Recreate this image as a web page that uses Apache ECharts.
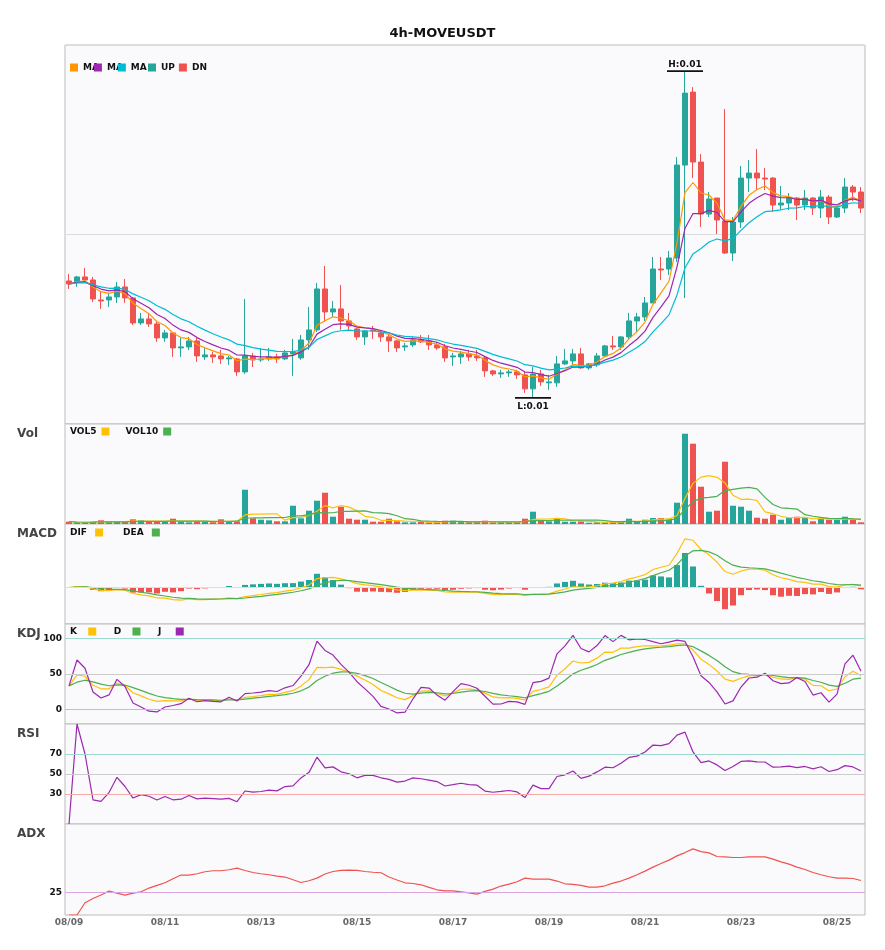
<!DOCTYPE html>
<html>
<head>
<meta charset="utf-8">
<title>4h-MOVEUSDT</title>
<script src="https://cdn.jsdelivr.net/npm/echarts@6/dist/echarts.min.js"></script>
<style>
  html, body { margin: 0; padding: 0; background: #fff; }
  #chart { width: 885px; height: 950px; }
</style>
</head>
<body>
<div id="chart"></div>
<script>
// 4h candles, 08/09 00:00 onwards
const days = ['08/09', '08/10', '08/11', '08/12', '08/13', '08/14', '08/15', '08/16', '08/17',
  '08/18', '08/19', '08/20', '08/21', '08/22', '08/23', '08/24', '08/25'];
const hours = ['00:00', '04:00', '08:00', '12:00', '16:00', '20:00'];

const opens = [
  0.01117, 0.01116, 0.01121, 0.01118, 0.01098, 0.01098, 0.01101, 0.01111, 0.01100, 0.01075,
  0.01079, 0.01074, 0.01060, 0.01065, 0.01050, 0.01051, 0.01057, 0.01041, 0.01043, 0.01042,
  0.01039, 0.01039, 0.01026, 0.01042, 0.01038, 0.01039, 0.01041, 0.01039, 0.01044, 0.01040,
  0.01058, 0.01068, 0.01109, 0.01086, 0.01089, 0.01077, 0.01069, 0.01061, 0.01068, 0.01065,
  0.01061, 0.01057, 0.01051, 0.01053, 0.01058, 0.01057, 0.01053, 0.01051, 0.01041, 0.01041,
  0.01044, 0.01042, 0.01040, 0.01027, 0.01024, 0.01025, 0.01026, 0.01023, 0.01009, 0.01024,
  0.01015, 0.01015, 0.01034, 0.01037, 0.01044, 0.01030, 0.01033, 0.01042, 0.01052, 0.01051,
  0.01061, 0.01077, 0.01081, 0.01095, 0.01129, 0.01129, 0.01140, 0.01233, 0.01306, 0.01236,
  0.01184, 0.01200, 0.01177, 0.01145, 0.01176, 0.01220, 0.01225, 0.01220, 0.01220, 0.01193,
  0.01195, 0.01200, 0.01193, 0.01200, 0.01190, 0.01201, 0.01181, 0.01190, 0.01211, 0.01206
];
const closes = [
  0.01114, 0.01121, 0.01118, 0.01099, 0.01097, 0.01101, 0.01111, 0.01100, 0.01075, 0.01079,
  0.01074, 0.01060, 0.01065, 0.01050, 0.01051, 0.01057, 0.01042, 0.01043, 0.01041, 0.01039,
  0.01040, 0.01026, 0.01042, 0.01038, 0.01039, 0.01041, 0.01039, 0.01045, 0.01046, 0.01058,
  0.01068, 0.01109, 0.01086, 0.01089, 0.01077, 0.01072, 0.01061, 0.01067, 0.01067, 0.01061,
  0.01057, 0.01050, 0.01052, 0.01058, 0.01056, 0.01053, 0.01050, 0.01040, 0.01042, 0.01044,
  0.01041, 0.01040, 0.01027, 0.01024, 0.01025, 0.01026, 0.01023, 0.01009, 0.01024, 0.01016,
  0.01016, 0.01034, 0.01037, 0.01044, 0.01030, 0.01034, 0.01042, 0.01052, 0.01051, 0.01061,
  0.01077, 0.01081, 0.01095, 0.01129, 0.01128, 0.01140, 0.01233, 0.01305, 0.01236, 0.01184,
  0.01199, 0.01178, 0.01145, 0.01176, 0.01220, 0.01225, 0.01220, 0.01219, 0.01193, 0.01195,
  0.01200, 0.01193, 0.01200, 0.01190, 0.01201, 0.01181, 0.01190, 0.01211, 0.01206, 0.01190
];
const highs = [
  0.01124, 0.01122, 0.01130, 0.01121, 0.01106, 0.01105, 0.01116, 0.01119, 0.01101, 0.01085,
  0.01085, 0.01077, 0.01068, 0.01065, 0.01060, 0.01061, 0.01061, 0.01051, 0.01046, 0.01048,
  0.01042, 0.01040, 0.01099, 0.01045, 0.01050, 0.01050, 0.01044, 0.01048, 0.01059, 0.01063,
  0.01091, 0.01115, 0.01132, 0.01097, 0.01113, 0.01085, 0.01070, 0.01068, 0.01072, 0.01068,
  0.01063, 0.01058, 0.01055, 0.01061, 0.01063, 0.01063, 0.01056, 0.01054, 0.01045, 0.01047,
  0.01048, 0.01048, 0.01041, 0.01028, 0.01028, 0.01028, 0.01028, 0.01026, 0.01031, 0.01028,
  0.01023, 0.01042, 0.01049, 0.01049, 0.01050, 0.01035, 0.01045, 0.01053, 0.01062, 0.01062,
  0.01085, 0.01085, 0.01101, 0.01141, 0.01141, 0.01147, 0.01241, 0.01327, 0.01311, 0.01244,
  0.01206, 0.01200, 0.01289, 0.01181, 0.01232, 0.01238, 0.01249, 0.01230, 0.01221, 0.01212,
  0.01205, 0.01201, 0.01208, 0.01201, 0.01208, 0.01203, 0.01191, 0.01220, 0.01213, 0.01211
];
const lows = [
  0.01109, 0.01111, 0.01116, 0.01096, 0.01089, 0.01091, 0.01095, 0.01095, 0.01073, 0.01073,
  0.01071, 0.01056, 0.01056, 0.01041, 0.01041, 0.01048, 0.01036, 0.01038, 0.01035, 0.01034,
  0.01033, 0.01022, 0.01024, 0.01031, 0.01036, 0.01037, 0.01035, 0.01038, 0.01022, 0.01038,
  0.01048, 0.01066, 0.01076, 0.01081, 0.01068, 0.01068, 0.01058, 0.01053, 0.01059, 0.01056,
  0.01046, 0.01046, 0.01047, 0.01051, 0.01055, 0.01048, 0.01048, 0.01036, 0.01032, 0.01034,
  0.01037, 0.01037, 0.01021, 0.01022, 0.01020, 0.01021, 0.01019, 0.01005, 0.01000, 0.01012,
  0.01008, 0.01011, 0.01033, 0.01033, 0.01029, 0.01028, 0.01031, 0.01041, 0.01048, 0.01048,
  0.01059, 0.01066, 0.01077, 0.01095, 0.01118, 0.01123, 0.01136, 0.01100, 0.01220, 0.01171,
  0.01181, 0.01164, 0.01144, 0.01137, 0.01170, 0.01206, 0.01208, 0.01208, 0.01186, 0.01188,
  0.01188, 0.01178, 0.01188, 0.01183, 0.01180, 0.01174, 0.01180, 0.01185, 0.01197, 0.01185
];
const volumes = [
  23000, 17000, 13000, 23000, 37000, 20000, 20000, 20000, 47000, 37000,
  20000, 23000, 23000, 53000, 27000, 17000, 27000, 20000, 20000, 47000,
  20000, 27000, 343000, 57000, 43000, 37000, 27000, 27000, 183000, 57000,
  133000, 233000, 313000, 73000, 173000, 53000, 43000, 43000, 23000, 23000,
  53000, 27000, 17000, 17000, 20000, 17000, 17000, 33000, 33000, 20000,
  17000, 17000, 33000, 17000, 17000, 17000, 17000, 53000, 123000, 30000,
  27000, 50000, 23000, 23000, 27000, 13000, 17000, 17000, 17000, 23000,
  53000, 27000, 43000, 60000, 60000, 53000, 213000, 903000, 803000, 373000,
  123000, 133000, 623000, 183000, 173000, 133000, 63000, 53000, 93000, 43000,
  60000, 73000, 60000, 27000, 53000, 43000, 43000, 73000, 43000, 17000
];
const adxValues = [
  0, 0, 13.5, 18.2, 21.9, 26.3, 24.1, 21.9, 24.1, 25.5,
  29.6, 32.5, 35.4, 39.8, 43.9, 43.9, 45.3, 47.5, 48.6, 48.6,
  49.7, 51.5, 48.9, 46.7, 45.3, 44.2, 42.8, 41.7, 38.7, 35.7,
  37.6, 40.5, 45.0, 47.8, 49.0, 49.3, 49.0, 47.8, 47.0, 46.4,
  41.7, 38.4, 35.4, 34.6, 33.2, 30.3, 27.7, 26.6, 26.6, 25.5,
  24.4, 23.0, 25.9, 28.5, 31.8, 34.0, 36.5, 40.5, 39.5, 39.5,
  39.5, 37.3, 34.3, 33.6, 32.5, 30.7, 30.7, 32.1, 35.0, 37.3,
  40.5, 44.2, 48.2, 52.6, 56.6, 60.3, 65.0, 68.6, 72.7, 69.7,
  68.3, 64.3, 63.9, 63.2, 63.2, 63.9, 63.9, 63.9, 61.4, 58.4,
  55.9, 52.6, 50.0, 46.7, 44.2, 42.0, 40.5, 40.5, 40.1, 37.9
];

const UP_COLOR = '#26a69a';
const DN_COLOR = '#ef5350';

const times = [];
days.forEach(function (d) { hours.forEach(function (h) { times.push(d + ' ' + h); }); });
times.length = closes.length;

// ---- indicators (computed from the candles) ----
function movingAvg(arr, n) {
  return arr.map(function (_, i) {
    var s = Math.max(0, i - n + 1), sum = 0;
    for (var k = s; k <= i; k++) sum += arr[k];
    return sum / (i - s + 1);
  });
}
function ema(arr, n) {
  var a = 2 / (n + 1), out = [];
  arr.forEach(function (v, i) { out.push(i === 0 ? v : a * v + (1 - a) * out[i - 1]); });
  return out;
}

// the price overlays follow exponential averages
const maFast = ema(closes, 5), maMid = ema(closes, 8), maSlow = ema(closes, 14);
const vol5 = movingAvg(volumes, 5), vol10 = movingAvg(volumes, 10);

// fast MACD (6, 13, 5)
const emaShort = ema(closes, 6), emaLong = ema(closes, 13);
const dif = emaShort.map(function (v, i) { return v - emaLong[i]; });
const dea = ema(dif, 5);
const hist = dif.map(function (v, i) { return 2 * (v - dea[i]); });

const kLine = [], dLine = [], jLine = [];
(function () {
  var k = 50, d = 50;
  for (var i = 0; i < closes.length; i++) {
    var s = Math.max(0, i - 8);
    var lo = Math.min.apply(null, lows.slice(s, i + 1));
    var hi = Math.max.apply(null, highs.slice(s, i + 1));
    var rsv = hi === lo ? 50 : (closes[i] - lo) / (hi - lo) * 100;
    if (i === 0) { k = rsv; d = rsv; } else { k = (2 * k + rsv) / 3; d = (2 * d + k) / 3; }
    kLine.push(k); dLine.push(d); jLine.push(3 * k - 2 * d);
  }
})();

const rsi = [0];
(function () {
  var ag = 0, al = 0, n = 14;
  for (var i = 1; i < closes.length; i++) {
    var ch = closes[i] - closes[i - 1];
    var g = Math.max(ch, 0), l = Math.max(-ch, 0);
    if (i <= n) { ag = (ag * (i - 1) + g) / i; al = (al * (i - 1) + l) / i; }
    else { ag = (ag * (n - 1) + g) / n; al = (al * (n - 1) + l) / n; }
    rsi.push(al === 0 ? 100 : 100 - 100 / (1 + ag / al));
  }
})();

// candles split in rising / falling so the legend shows UP and DN
const upCandles = [], dnCandles = [];
closes.forEach(function (c, i) {
  var item = [opens[i], c, lows[i], highs[i]];
  var empty = ['-', '-', '-', '-'];
  if (c >= opens[i]) { upCandles.push(item); dnCandles.push(empty); }
  else { upCandles.push(empty); dnCandles.push(item); }
});

const hiVal = Math.max.apply(null, highs), loVal = Math.min.apply(null, lows);
const hiIdx = highs.indexOf(hiVal), loIdx = lows.indexOf(loVal);
const pad = (hiVal - loVal) * 0.08;
const priceMin = loVal - pad, priceMax = hiVal + pad;

// ---- layout ----
const LEFT = 65, RIGHT = 20;
const grids = [
  { top: 45, height: 379 },
  { top: 424, height: 100 },
  { top: 524, height: 100 },
  { top: 624, height: 100 },
  { top: 724, height: 100 },
  { top: 824, height: 91 }
];

const labelFont = { fontFamily: 'DejaVu Sans', fontSize: 9, fontWeight: 'bold', color: '#111' };

function xAxisFor(idx) {
  var last = idx === grids.length - 1;
  return {
    type: 'category', gridIndex: idx, data: times, boundaryGap: true,
    axisLine: { show: false }, axisTick: { show: false },
    splitLine: { show: false },
    axisLabel: last ? {
      show: true, interval: 11, margin: 3, color: '#666', fontSize: 9, fontWeight: 'bold',
      fontFamily: 'DejaVu Sans', formatter: function (v) { return v.slice(0, 5); }
    } : { show: false }
  };
}

function levelAxis(idx, min, max, interval, shown) {
  return {
    type: 'value', gridIndex: idx, min: min, max: max, interval: interval,
    axisLine: { show: false }, axisTick: { show: false }, splitLine: { show: false },
    axisLabel: {
      show: true, margin: 3, fontFamily: 'DejaVu Sans', fontSize: 9, fontWeight: 'bold', color: '#111',
      formatter: function (v) { return shown.indexOf(Math.round(v)) >= 0 ? String(Math.round(v)) : ''; }
    }
  };
}

function levels(list) {
  return {
    silent: true, symbol: 'none', animation: false, label: { show: false },
    data: list.map(function (l) { return { yAxis: l[0], lineStyle: { color: l[1], width: 1, type: 'solid' } }; })
  };
}

function lineSeries(name, data, color, xi, extra) {
  var s = {
    name: name, type: 'line', data: data, xAxisIndex: xi, yAxisIndex: xi,
    symbol: 'none', smooth: false, animation: false,
    lineStyle: { color: color, width: 1.2 }, itemStyle: { color: color }
  };
  return Object.assign(s, extra || {});
}

function panelTitle(text, top) {
  return {
    text: text, left: 17, top: top, padding: 0,
    textStyle: { fontFamily: 'DejaVu Sans', fontSize: 12, fontWeight: 'bold', color: '#444' }
  };
}

function legendBox(names, left, top, gap, extra) {
  return Object.assign({
    data: names, left: left, top: top, padding: 0, icon: 'rect',
    itemWidth: 8, itemHeight: 8, itemGap: gap, selectedMode: false,
    itemStyle: { borderWidth: 0 }, textStyle: labelFont
  }, extra || {});
}

// sub panel legends: text first, icon after, labels padded with spaces
function subLegend(names, top, gap, labels) {
  return legendBox(names, 70, top, gap, {
    align: 'right',
    formatter: function (n) { return labels[names.indexOf(n)]; }
  });
}

const chart = echarts.init(document.getElementById('chart'), null, { renderer: 'canvas' });

chart.setOption({
  animation: false,
  backgroundColor: '#fff',
  title: [
    {
      text: '4h-MOVEUSDT', left: 'center', top: 27, padding: 0,
      textStyle: { fontFamily: 'DejaVu Sans', fontSize: 13, fontWeight: 'bold', color: '#111' }
    },
    panelTitle('Vol', 428),
    panelTitle('MACD', 528),
    panelTitle('KDJ', 628),
    panelTitle('RSI', 728),
    panelTitle('ADX', 828)
  ],
  legend: [
    // the MA entries are packed so each icon sits over the tail of the previous label
    legendBox(['MA5', 'MA8', 'MA14'], 70, 63, -5, { formatter: function () { return 'MA'; } }),
    legendBox(['UP', 'DN'], 148, 63, 4),
    subLegend(['VOL5', 'VOL10'], 427, 16, ['VOL5', 'VOL10']),
    subLegend(['DIF', 'DEA'], 528, 20, ['DIF ', 'DEA ']),
    subLegend(['K', 'D', 'J'], 627, 17.5, ['K  ', 'D  ', 'J   '])
  ],
  grid: grids.map(function (g) {
    return {
      left: LEFT, right: RIGHT, top: g.top, height: g.height,
      show: true, backgroundColor: '#fafafc', borderColor: '#bbb', borderWidth: 1
    };
  }),
  xAxis: grids.map(function (_, i) { return xAxisFor(i); }),
  yAxis: [
    {
      type: 'value', gridIndex: 0, min: priceMin, max: priceMax, interval: (priceMax - priceMin) / 2,
      axisLine: { show: false }, axisTick: { show: false }, axisLabel: { show: false },
      splitLine: { show: true, lineStyle: { color: '#ddd', width: 1 } }
    },
    {
      type: 'value', gridIndex: 1, min: 0, max: 1000000,
      axisLine: { show: false }, axisTick: { show: false }, axisLabel: { show: false }, splitLine: { show: false }
    },
    {
      type: 'value', gridIndex: 2,
      min: function (v) { return v.min - (v.max - v.min) * 0.21; },
      max: function (v) { return v.max + (v.max - v.min) * 0.21; },
      axisLine: { show: false }, axisTick: { show: false }, axisLabel: { show: false }, splitLine: { show: false }
    },
    levelAxis(3, -20, 120, 10, [0, 50, 100]),
    levelAxis(4, 0, 100, 10, [30, 50, 70]),
    levelAxis(5, 0, 100, 5, [25])
  ],
  series: [
    {
      name: 'UP', type: 'candlestick', data: upCandles, xAxisIndex: 0, yAxisIndex: 0, barWidth: 6,
      itemStyle: { color: UP_COLOR, color0: UP_COLOR, borderColor: UP_COLOR, borderColor0: UP_COLOR, borderWidth: 1 },
      markPoint: {
        silent: true, animation: false, symbol: 'rect', symbolSize: [36, 1.6],
        itemStyle: { color: '#111' },
        data: [
          { coord: [hiIdx, hiVal], value: hiVal,
            label: Object.assign({ show: true, position: 'top', distance: 1, formatter: 'H:' + hiVal.toFixed(2) }, labelFont) },
          { coord: [loIdx, loVal], value: loVal,
            label: Object.assign({ show: true, position: 'bottom', distance: 3, formatter: 'L:' + loVal.toFixed(2) }, labelFont) }
        ]
      }
    },
    {
      name: 'DN', type: 'candlestick', data: dnCandles, xAxisIndex: 0, yAxisIndex: 0, barWidth: 6,
      itemStyle: { color: DN_COLOR, color0: DN_COLOR, borderColor: DN_COLOR, borderColor0: DN_COLOR, borderWidth: 1 }
    },
    lineSeries('MA5', maFast, '#ff9800', 0),
    lineSeries('MA8', maMid, '#9c27b0', 0),
    lineSeries('MA14', maSlow, '#00bcd4', 0),

    {
      name: 'Vol', type: 'bar', xAxisIndex: 1, yAxisIndex: 1, barWidth: 6, animation: false,
      data: volumes.map(function (v, i) {
        return { value: v, itemStyle: { color: closes[i] >= opens[i] ? UP_COLOR : DN_COLOR } };
      })
    },
    lineSeries('VOL5', vol5, '#ffc107', 1),
    lineSeries('VOL10', vol10, '#4caf50', 1),

    {
      name: 'MACD', type: 'bar', xAxisIndex: 2, yAxisIndex: 2, barWidth: 6, animation: false,
      data: hist.map(function (v) { return { value: v, itemStyle: { color: v >= 0 ? UP_COLOR : DN_COLOR } }; }),
      markLine: levels([[0, '#ddd']])
    },
    lineSeries('DIF', dif, '#ffc107', 2),
    lineSeries('DEA', dea, '#4caf50', 2),

    lineSeries('K', kLine, '#ffc107', 3, {
      markLine: levels([[100, '#9fd8cf'], [50, '#cccccc'], [0, '#f6a9a9']])
    }),
    lineSeries('D', dLine, '#4caf50', 3),
    lineSeries('J', jLine, '#9c27b0', 3),

    lineSeries('RSI', rsi, '#9c27b0', 4, {
      markLine: levels([[70, '#9fd8cf'], [50, '#cccccc'], [30, '#f6a9a9']])
    }),

    lineSeries('ADX', adxValues, '#ef5350', 5, {
      markLine: levels([[25, '#dba6e2']])
    })
  ]
});
</script>
</body>
</html>
